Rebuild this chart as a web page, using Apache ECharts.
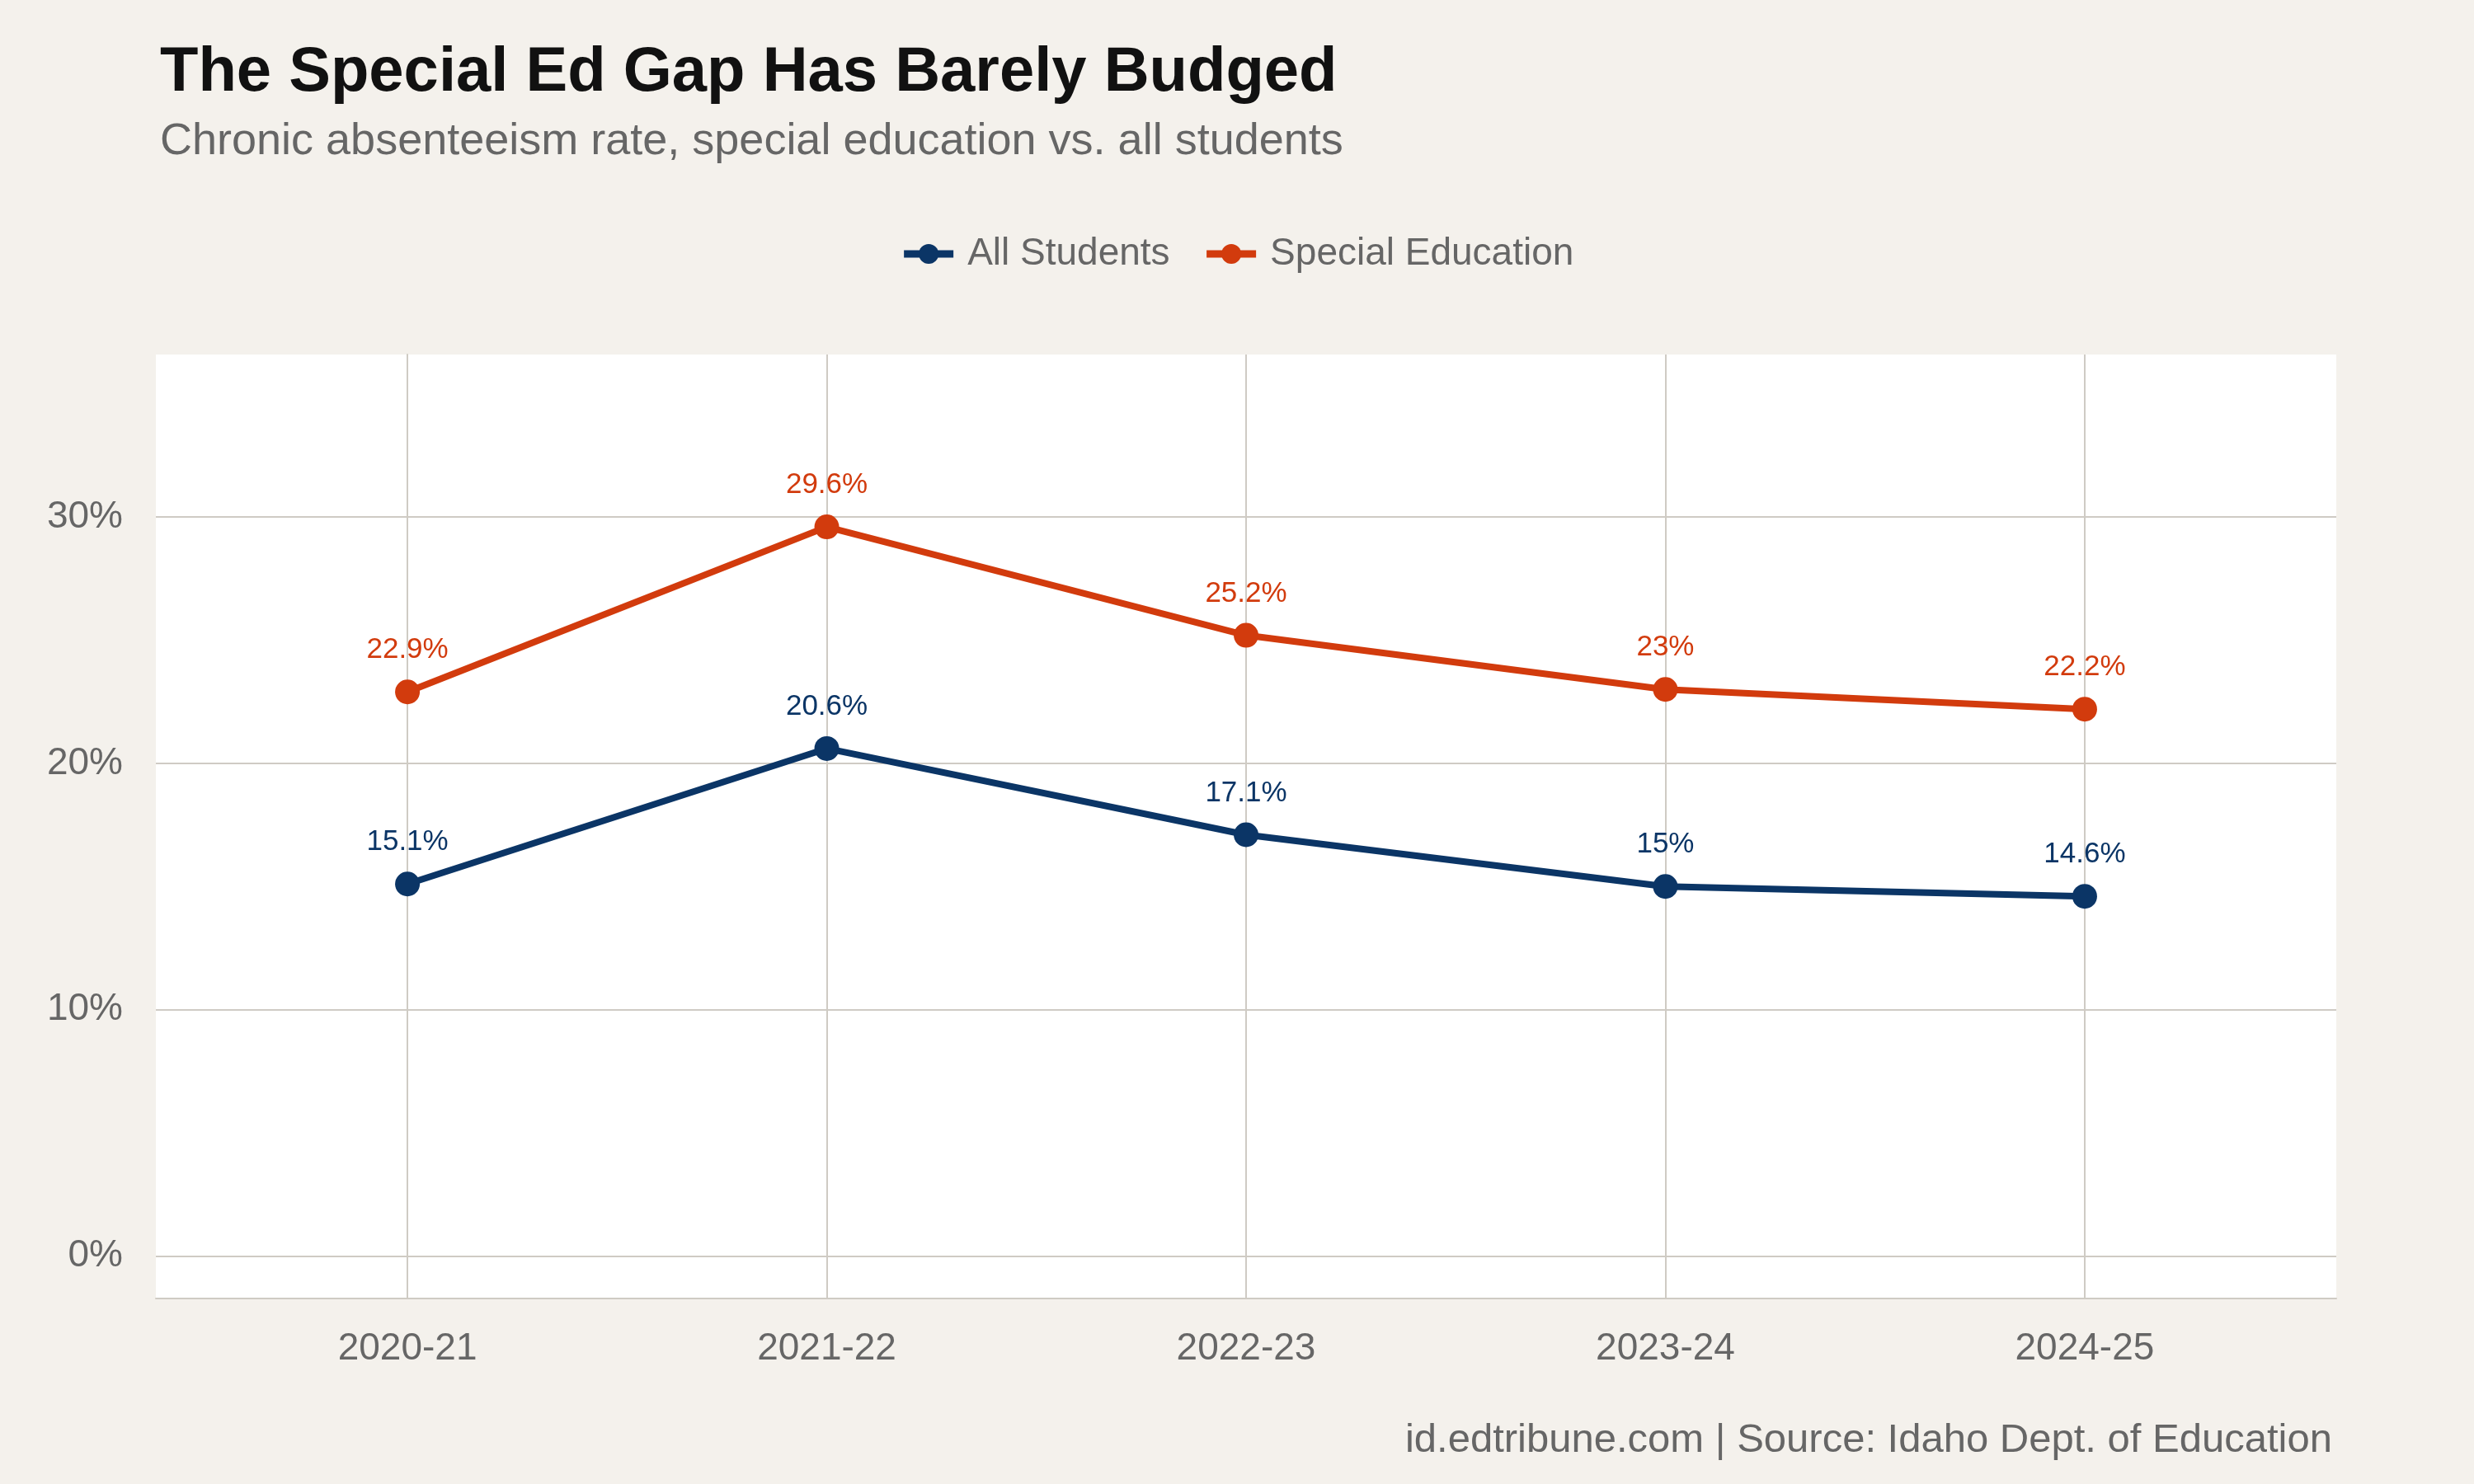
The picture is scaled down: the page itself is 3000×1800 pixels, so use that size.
<!DOCTYPE html>
<html><head><meta charset="utf-8">
<script src="https://cdn.jsdelivr.net/npm/echarts@6/dist/echarts.min.js"></script>
<style>html,body{margin:0;padding:0;background:#f4f1ec}#c{width:3000px;height:1800px}</style>
</head><body><div id="c"></div>
<script>
const categories = ["2020-21","2021-22","2022-23","2023-24","2024-25"];
const allStudents = [15.1,20.6,17.1,15.0,14.6];
const specialEd = [22.9,29.6,25.2,23.0,22.2];
const yTicks = [0,10,20,30];
const F = "Liberation Sans";
const chart = echarts.init(document.getElementById('c'));
const grid = '#cfcbc4';
function mk(name, vals, color, withLines){
  const s = {
    name, type:'line', data: vals.map((v,i)=>[i,v]),
    lineStyle:{width:8,color}, itemStyle:{color}, symbol:'circle', symbolSize:30,
    label:{show:true,position:'top',distance:18,color,fontFamily:F,fontSize:35,
      formatter:p=>(+p.value[1].toFixed(1))+'%'},
    z:5
  };
  if(withLines){
    s.markLine={silent:true,symbol:'none',label:{show:false},
      lineStyle:{color:grid,width:2,type:'solid'},z:1,
      data:[...yTicks.map(v=>({yAxis:v})),...categories.map((c,i)=>({xAxis:i}))]};
  }
  return s;
}
chart.setOption({
  backgroundColor:'#f4f1ec',
  animation:false,
  title:[
    {text:'The Special Ed Gap Has Barely Budged',left:189,top:46,textStyle:{fontFamily:F,fontSize:76,fontWeight:'bold',color:'#111'}},
    {text:'Chronic absenteeism rate, special education vs. all students',left:189,top:140,textStyle:{fontFamily:F,fontSize:54,fontWeight:'normal',color:'#666'}},
    {text:'id.edtribune.com | Source: Idaho Dept. of Education',right:167,top:1718,textStyle:{fontFamily:F,fontSize:49,fontWeight:'normal',color:'#666'}}
  ],
  legend:{top:280,left:'center',itemWidth:60,itemHeight:30,itemGap:40,
    lineStyle:{width:9},
    textStyle:{fontFamily:F,fontSize:46,color:'#666',padding:[0,0,0,12]},data:['All Students','Special Education']},
  grid:{left:189,right:167,top:430,bottom:225,show:true,backgroundColor:'#fff',borderWidth:0},
  xAxis:{type:'value',min:-0.6,max:4.6,splitLine:{show:false},
    axisLine:{show:true,onZero:false,lineStyle:{color:grid,width:2}},
    axisTick:{show:false},
    axisLabel:{customValues:[0,1,2,3,4],formatter:v=>categories[Math.round(v)]||'',
      fontFamily:F,fontSize:46,color:'#666',margin:38}},
  yAxis:{type:'value',min:-1.73,max:36.6,splitLine:{show:false},
    axisLine:{show:true,lineStyle:{color:grid,width:2}},
    axisTick:{show:false},
    axisLabel:{customValues:yTicks,formatter:v=>Math.round(v)+'%',
      fontFamily:F,fontSize:46,color:'#666',margin:40}},
  series:[mk('All Students',allStudents,'#0b3566',true),mk('Special Education',specialEd,'#d23b0d',false)]
});
</script></body></html>
